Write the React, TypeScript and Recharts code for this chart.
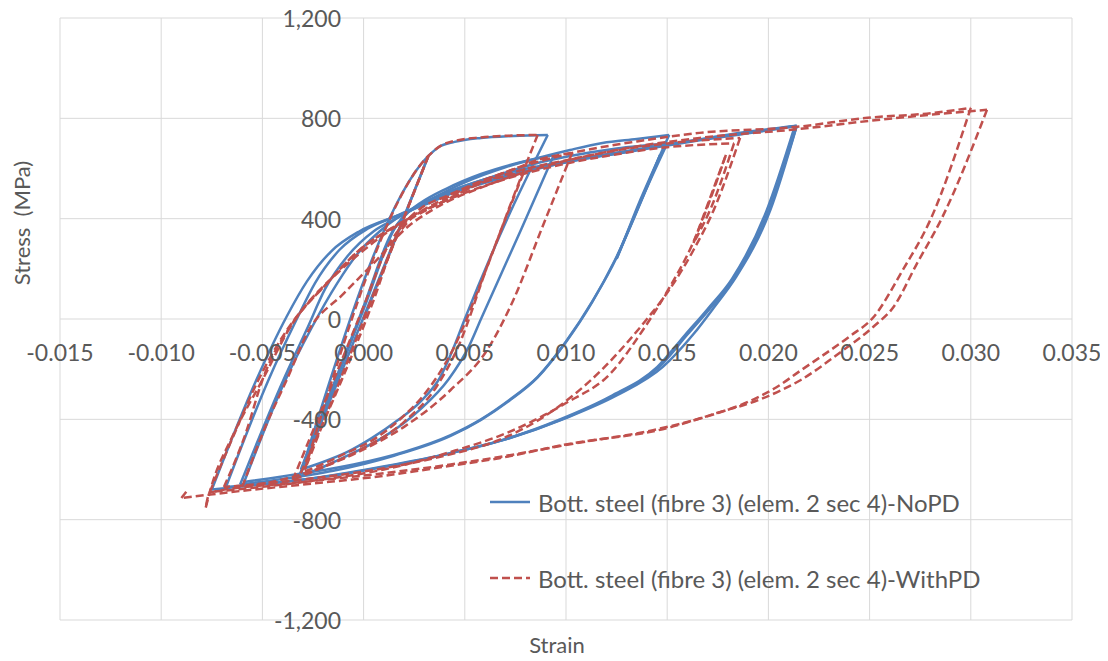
import React from 'react';
import { LineChart, Line, XAxis, YAxis, CartesianGrid } from 'recharts';

// strain (x) / stress in MPa (y), in the order the analysis traced them
const noPdPoints: [number, number][] = [
  [0, 0], [0.0032, 650], [-0.0031, -615], [0.0032, 650],
  [0.0037, 685], [0.0045, 706], [0.0058, 722], [0.0074, 730], [0.0091, 734],
  [0.0071, 400], [0.005, 0], [0.0044, -124], [0.0038, -230], [0.0028, -330], [0.0017, -403], [0.0004, -475], [-0.0008, -530], [-0.002, -570], [-0.0031, -600],
  [0.0, 50], [0.0014, 345], [0.002, 410], [0.0028, 462], [0.0041, 520], [0.0058, 578], [0.0077, 624], [0.0094, 654],
  [0.0078, 360], [0.0058, 0], [0.0052, -110], [0.0042, -240], [0.0028, -360], [0.001, -470], [-0.0008, -545], [-0.002, -590], [-0.0032, -630],
  [0.0001, 60], [0.0016, 370], [0.0022, 425], [0.0035, 485], [0.005, 545], [0.007, 605], [0.009, 650], [0.0102, 674], [0.0118, 702], [0.0135, 718], [0.0151, 734],
  [0.0137, 480], [0.0125, 245], [0.0113, 70], [0.01, -90], [0.0086, -231], [0.0072, -323], [0.0058, -400], [0.0043, -463], [0.002, -530], [-0.0005, -580], [-0.003, -615], [-0.0059, -650],
  [-0.0039, -250], [-0.0026, -40], [-0.0013, 143], [-0.0003, 260], [0.0008, 350], [0.0016, 400], [0.003, 460], [0.0045, 515], [0.0065, 570], [0.0085, 620], [0.0102, 650], [0.0125, 680], [0.015, 700],
  [0.0137, 470], [0.0125, 240], [0.01465, 654], [0.0124, 232], [0.0113, 68], [0.01, -92], [0.0086, -233], [0.0072, -326], [0.0058, -402], [0.0043, -466], [0.0015, -545], [-0.0015, -605], [-0.004, -638], [-0.0061, -660],
  [-0.004, -250], [-0.0028, -40], [-0.0019, 120], [-0.0008, 250], [0.0005, 350], [0.0016, 400], [0.004, 500], [0.007, 580], [0.0102, 632], [0.013, 670], [0.015, 695], [0.018, 735], [0.0214, 770],
  [0.0201, 435], [0.0184, 167], [0.0173, 45], [0.0163, -60], [0.0148, -190], [0.0125, -305], [0.01, -395], [0.007, -480], [0.0043, -535], [0.001, -590], [-0.002, -630], [-0.0045, -655], [-0.0075, -680],
  [-0.0053, -243], [-0.0038, 10], [-0.0028, 150], [-0.0016, 270], [-0.0002, 350], [0.0016, 410], [0.003, 455], [0.0045, 505], [0.007, 565], [0.01, 625], [0.013, 665], [0.016, 705], [0.019, 740], [0.0214, 770],
  [0.02, 430], [0.0183, 160], [0.0171, 40], [0.016, -62], [0.0146, -192], [0.0123, -307], [0.0098, -400], [0.0068, -485], [0.004, -540], [0.0005, -595], [-0.0025, -635], [-0.0068, -670],
  [-0.0047, -243], [-0.0033, 0], [-0.0024, 143], [-0.0012, 275], [0.0002, 360], [0.0016, 410], [0.004, 495], [0.007, 570], [0.0102, 628], [0.013, 668], [0.016, 708], [0.019, 742], [0.0213, 768],
  [0.0199, 430], [0.0182, 160], [0.017, 40], [0.0159, -62], [0.0145, -192], [0.0122, -308], [0.0097, -400], [0.0067, -486], [0.0043, -533],
];

const withPdPoints: [number, number][] = [
  [0, 0], [0.0032, 650], [-0.0029, -600], [0.0032, 650],
  [0.0038, 690], [0.0046, 712], [0.0058, 724], [0.0072, 731], [0.0086, 734],
  [0.0074, 487], [0.0061, 207], [0.0044, -124], [0.0031, -290], [0.0018, -400], [0.0006, -475], [-0.001, -540], [-0.0022, -585], [-0.0031, -614],
  [0.0005, 76], [0.0016, 320], [0.0022, 388], [0.003, 430], [0.0041, 475], [0.0058, 542], [0.007, 570], [0.0079, 582],
  [0.0062, 230], [0.0046, -124], [0.0036, -270], [0.002, -410], [0, -515], [-0.002, -590], [-0.0035, -642],
  [0, 50], [0.0012, 290], [0.002, 380], [0.0028, 440], [0.0041, 490], [0.0058, 550], [0.0075, 600], [0.0086, 634], [0.0103, 662],
  [0.0088, 360], [0.0074, 76], [0.0061, -124], [0.0043, -283], [0.002, -430], [0, -520], [-0.002, -590], [-0.004, -640], [-0.006, -670],
  [-0.0048, -420], [-0.0038, -243], [-0.0027, -44], [-0.001, 100], [0.0007, 240], [0.002, 355], [0.0035, 440], [0.006, 530], [0.009, 610], [0.012, 665], [0.015, 700], [0.0186, 722],
  [0.0173, 435], [0.0163, 275], [0.0151, 116], [0.014, 0], [0.013, -96], [0.0118, -200], [0.0105, -295], [0.0087, -400], [0.0067, -482], [0.004, -545], [0.001, -595], [-0.0025, -635], [-0.0069, -670],
  [-0.0058, -450], [-0.005, -243], [-0.0035, -16], [-0.0018, 143], [-0.0002, 275], [0.0015, 367], [0.0021, 395], [0.004, 470], [0.0065, 545], [0.0092, 605], [0.012, 650], [0.015, 685], [0.0183, 700],
  [0.0172, 450], [0.0163, 303], [0.0179, 654], [0.0162, 290], [0.015, 110], [0.0138, -44], [0.0122, -217], [0.01, -335], [0.0072, -450], [0.0043, -530], [0.001, -600], [-0.003, -650], [-0.0076, -690],
  [-0.0064, -460], [-0.0052, -243], [-0.004, -70], [-0.0028, 60], [-0.0012, 190], [0.0004, 300], [0.002, 390], [0.004, 480], [0.007, 585], [0.0102, 660], [0.0135, 708], [0.0166, 742], [0.0214, 766], [0.0249, 802], [0.0281, 821], [0.03, 842],
  [0.028, 395], [0.0266, 190], [0.0252, 8], [0.024, -70], [0.0226, -150], [0.0216, -205], [0.0204, -272], [0.019, -330], [0.0171, -385], [0.0143, -443], [0.0105, -495], [0.0067, -550], [0.0043, -580], [0.001, -615], [-0.003, -650], [-0.0076, -692], [-0.0078, -752],
  [-0.0076, -690], [-0.0064, -455], [-0.005, -243], [-0.0035, -16], [-0.0018, 143], [-0.0002, 275], [0.0015, 367], [0.0021, 395], [0.0041, 475], [0.0058, 542], [0.008, 598], [0.0102, 636], [0.0135, 688], [0.0166, 722], [0.0216, 758], [0.025, 790], [0.0281, 815], [0.0308, 834],
  [0.0286, 407], [0.0273, 215], [0.0262, 50], [0.0252, -30], [0.0236, -130], [0.0216, -243], [0.0196, -320], [0.01745, -375], [0.015, -435], [0.01, -500], [0.0067, -555], [0.0043, -585], [0.001, -625], [-0.003, -660], [-0.006, -685], [-0.009, -714], [-0.0087, -682],
];

const strainTicks = [-0.015, -0.01, -0.005, 0, 0.005, 0.01, 0.015, 0.02, 0.025, 0.03, 0.035];
const stressTicks = [-1200, -800, -400, 0, 400, 800, 1200];

const seriesNames = [
  'Bott. steel (fibre 3) (elem. 2 sec 4)-NoPD',
  'Bott. steel (fibre 3) (elem. 2 sec 4)-WithPD',
];

const BLUE = '#4F81BD';
const RED = '#C0504D';
const TEXT = '#595959';
const FONT = 'Lato, "Open Sans", sans-serif';
const DASH = '8 4';
const LINE_W = 2.5;

// cut a traced path into branches at every strain reversal, so each branch can be smoothed
const splitBranches = (pts: [number, number][]) => {
  const out: { x: number; y: number }[][] = [];
  let cur = [{ x: pts[0][0], y: pts[0][1] }];
  let dir = 0;
  for (let i = 1; i < pts.length; i++) {
    const d = Math.sign(pts[i][0] - pts[i - 1][0]);
    if (dir !== 0 && d !== 0 && d !== dir) {
      out.push(cur);
      cur = [{ x: pts[i - 1][0], y: pts[i - 1][1] }];
    }
    if (d !== 0) dir = d;
    cur.push({ x: pts[i][0], y: pts[i][1] });
  }
  out.push(cur);
  return out;
};

// x labels sit on the y=0 line, not at the bottom
const XTick = (props: any) => {
  const { x, payload } = props;
  return (
    <text x={x} y={354} textAnchor="middle" dominantBaseline="central" fill={TEXT} fontSize={23} fontFamily={FONT}>
      {Number(payload.value).toFixed(3)}
    </text>
  );
};

// y labels sit left of the x=0 line
const YTick = (props: any) => {
  const { y, payload } = props;
  return (
    <text x={333} y={y} textAnchor="end" dominantBaseline="central" fill={TEXT} fontSize={23} fontFamily={FONT}>
      {Number(payload.value).toLocaleString('en-US')}
    </text>
  );
};

export default function App() {
  const noPd = splitBranches(noPdPoints);
  const withPd = splitBranches(withPdPoints);

  return (
    <div style={{ position: 'relative', width: 1100, height: 663, marginTop: -10, fontFamily: FONT }}>
      <LineChart width={1100} height={663} margin={{ top: 20, right: 36, left: 51, bottom: 40 }}>
        <CartesianGrid stroke="#D9D9D9" strokeWidth={1} />
        <XAxis
          type="number"
          dataKey="x"
          domain={[-0.015, 0.035]}
          ticks={strainTicks}
          interval={0}
          height={1}
          axisLine={false}
          tickLine={false}
          tick={XTick}
          allowDataOverflow
        />
        <YAxis
          type="number"
          domain={[-1200, 1200]}
          ticks={stressTicks}
          interval={0}
          width={1}
          axisLine={false}
          tickLine={false}
          tick={YTick}
          allowDataOverflow
        />
        {noPd.map((branch, i) => (
          <Line key={`n${i}`} data={branch} dataKey="y" type="monotoneX" stroke={BLUE} strokeWidth={LINE_W} dot={false} isAnimationActive={false} />
        ))}
        {withPd.map((branch, i) => (
          <Line key={`w${i}`} data={branch} dataKey="y" type="monotoneX" stroke={RED} strokeWidth={LINE_W} strokeDasharray={DASH} dot={false} isAnimationActive={false} />
        ))}
      </LineChart>

      <div style={{ position: 'absolute', left: 549, top: 636, transform: 'translateX(-50%)', fontSize: 22, lineHeight: '22px', color: TEXT }}>
        Strain
      </div>
      <div
        style={{
          position: 'absolute', left: 14, top: 225, transform: 'translate(-50%, -50%) rotate(-90deg)',
          fontSize: 22, lineHeight: '22px', color: TEXT, whiteSpace: 'pre',
        }}
      >
        {'Stress  (MPa)'}
      </div>

      {seriesNames.map((name, i) => (
        <div key={name} style={{ position: 'absolute', left: 482, top: (i === 0 ? 504 : 580) - 13, height: 26, display: 'flex', alignItems: 'center', whiteSpace: 'nowrap' }}>
          <svg width={42} height={6} style={{ marginRight: 6 }}>
            <line x1={0} y1={3} x2={40} y2={3} stroke={i === 0 ? BLUE : RED} strokeWidth={LINE_W} strokeDasharray={i === 0 ? undefined : DASH} />
          </svg>
          <span style={{ fontSize: 24, color: TEXT }}>{name}</span>
        </div>
      ))}
    </div>
  );
}
